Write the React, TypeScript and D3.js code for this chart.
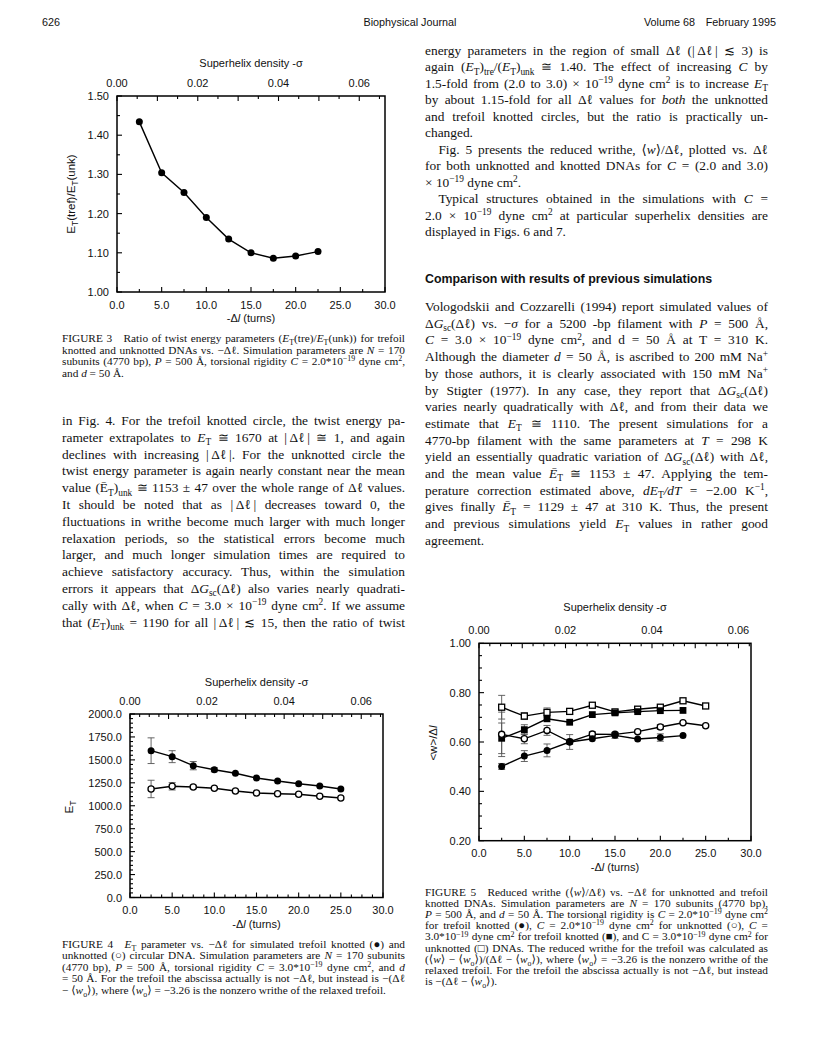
import React, { useLayoutEffect, useRef, useState } from 'react';
import * as d3 from 'd3';

// ---------------- data ----------------
const xTicks = [0, 5, 10, 15, 20, 25, 30];
const sigmaTicks = [0, 0.02, 0.04, 0.06];

// Figure 3
const fig3DeltaL = [2.5, 5, 7.5, 10, 12.5, 15, 17.5, 20, 22.5];
const fig3Ratio = [1.434, 1.304, 1.254, 1.19, 1.135, 1.1, 1.086, 1.092, 1.103];
const fig3YTicks = [1.0, 1.1, 1.2, 1.3, 1.4, 1.5];

// Figure 4
const fig4DeltaL = [2.5, 5, 7.5, 10, 12.5, 15, 17.5, 20, 22.5, 25];
const fig4Trefoil = [1600, 1535, 1437, 1393, 1354, 1302, 1270, 1240, 1215, 1183];
const fig4TrefoilErr = [140, 65, 45, 22, 0, 0, 0, 0, 0, 0];
const fig4Unknotted = [1183, 1212, 1205, 1190, 1161, 1139, 1131, 1125, 1103, 1085];
const fig4UnknottedErr = [95, 40, 18, 0, 0, 0, 0, 0, 0, 0];
const fig4YTicks = [0, 250, 500, 750, 1000, 1250, 1500, 1750, 2000];

// Figure 5
const fig5DeltaLUnk = [2.5, 5, 7.5, 10, 12.5, 15, 17.5, 20, 22.5, 25];
const fig5DeltaLTre = [2.5, 5, 7.5, 10, 12.5, 15, 17.5, 20, 22.5];
const fig5UnkC3 = [0.741, 0.705, 0.72, 0.724, 0.749, 0.722, 0.733, 0.741, 0.767, 0.746];
const fig5UnkC3Err = [0.048, 0.014, 0.018, 0.012, 0, 0, 0, 0, 0, 0];
const fig5TreC3 = [0.615, 0.65, 0.694, 0.68, 0.711, 0.718, 0.723, 0.727, 0.728];
const fig5TreC3Err = [0.062, 0.02, 0, 0, 0, 0, 0, 0, 0];
const fig5UnkC2 = [0.631, 0.613, 0.647, 0.601, 0.632, 0.631, 0.642, 0.661, 0.678, 0.666];
const fig5UnkC2Err = [0.09, 0.02, 0.02, 0.01, 0.01, 0, 0, 0.01, 0, 0];
const fig5TreC2 = [0.501, 0.543, 0.566, 0.6, 0.613, 0.627, 0.612, 0.618, 0.626];
const fig5TreC2Err = [0.012, 0.022, 0.026, 0.03, 0, 0.012, 0, 0.015, 0];
const fig5YTicks = [0.2, 0.4, 0.6, 0.8, 1.0];

// ---------------- text ----------------
const headerLeft = '626';
const headerCenter = 'Biophysical Journal';
const headerRight = 'Volume 68\u2003February 1995';

const fig3Caption = [
  'FIGURE 3\u2003Ratio of twist energy parameters (~E~_{T}(tre)/~E~_{T}(unk)) for trefoil',
  'knotted and unknotted DNAs vs. \u2212Δℓ. Simulation parameters are ~N~ = 170',
  'subunits (4770 bp), ~P~ = 500 Å, torsional rigidity ~C~ = 2.0*10^{\u221219} dyne cm^{2},',
  'and ~d~ = 50 Å.',
];

const leftBody = [
  'in Fig. 4. For the trefoil knotted circle, the twist energy pa-',
  'rameter extrapolates to ~E~_{T} ≅ 1670 at |\u2009Δℓ\u2009| ≅ 1, and again',
  'declines with increasing |\u2009Δℓ\u2009|. For the unknotted circle the',
  'twist energy parameter is again nearly constant near the mean',
  'value (Ē_{T})_{unk} ≅ 1153 ± 47 over the whole range of Δℓ values.',
  'It should be noted that as |\u2009Δℓ\u2009| decreases toward 0, the',
  'fluctuations in writhe become much larger with much longer',
  'relaxation periods, so the statistical errors become much',
  'larger, and much longer simulation times are required to',
  'achieve satisfactory accuracy. Thus, within the simulation',
  'errors it appears that Δ~G~_{sc}(Δℓ) also varies nearly quadrati-',
  'cally with Δℓ, when ~C~ = 3.0 × 10^{\u221219} dyne cm^{2}. If we assume',
  'that (~E~_{T})_{unk} = 1190 for all |\u2009Δℓ\u2009| ≲ 15, then the ratio of twist',
];

const rightBodyA = [
  'energy parameters in the region of small Δℓ (|\u2009Δℓ\u2009| ≲ 3) is',
  'again (~E~_{T})_{tre}/(~E~_{T})_{unk} ≅ 1.40. The effect of increasing ~C~ by',
  '1.5-fold from (2.0 to 3.0) × 10^{\u221219} dyne cm^{2} is to increase ~E~_{T}',
  'by about 1.15-fold for all Δℓ values for ~both~ the unknotted',
  'and trefoil knotted circles, but the ratio is practically un-',
  'changed.',
  '\u2003Fig. 5 presents the reduced writhe, ⟨~w~⟩/Δℓ, plotted vs. Δℓ',
  'for both unknotted and knotted DNAs for ~C~ = (2.0 and 3.0)',
  '× 10^{\u221219} dyne cm^{2}.',
  '\u2003Typical structures obtained in the simulations with ~C~ =',
  '2.0 × 10^{\u221219} dyne cm^{2} at particular superhelix densities are',
  'displayed in Figs. 6 and 7.',
];
const rightBodyAJustify = [1, 1, 1, 1, 1, 0, 1, 1, 0, 1, 1, 0];

const heading = 'Comparison with results of previous simulations';

const rightBodyB = [
  'Vologodskii and Cozzarelli (1994) report simulated values of',
  'Δ~G~_{sc}(Δℓ) vs. \u2212~σ~ for a 5200 -bp filament with ~P~ = 500 Å,',
  '~C~ = 3.0 × 10^{\u221219} dyne cm^{2}, and d = 50 Å at T = 310 K.',
  'Although the diameter ~d~ = 50 Å, is ascribed to 200 mM Na^{+}',
  'by those authors, it is clearly associated with 150 mM Na^{+}',
  'by Stigter (1977). In any case, they report that Δ~G~_{sc}(Δℓ)',
  'varies nearly quadratically with Δℓ, and from their data we',
  'estimate that ~E~_{T} ≅ 1110. The present simulations for a',
  '4770-bp filament with the same parameters at ~T~ = 298 K',
  'yield an essentially quadratic variation of Δ~G~_{sc}(Δℓ) with Δℓ,',
  'and the mean value ~Ē~_{T} ≅ 1153 ± 47. Applying the tem-',
  'perature correction estimated above, ~dE~_{T}~/dT~ = \u22122.00 K^{\u22121},',
  'gives finally ~Ē~_{T} = 1129 ± 47 at 310 K. Thus, the present',
  'and previous simulations yield ~E~_{T} values in rather good',
  'agreement.',
];

const fig4Caption = [
  'FIGURE 4\u2003~E~_{T} parameter vs. \u2212Δℓ for simulated trefoil knotted (●) and',
  'unknotted (○) circular DNA. Simulation parameters are ~N~ = 170 subunits',
  '(4770 bp), ~P~ = 500 Å, torsional rigidity ~C~ = 3.0*10^{\u221219} dyne cm^{2}, and ~d~',
  '= 50 Å. For the trefoil the abscissa actually is not \u2212Δℓ, but instead is \u2212(Δℓ',
  '\u2212 ⟨~w~_{o}⟩), where ⟨~w~_{o}⟩ = \u22123.26 is the nonzero writhe of the relaxed trefoil.',
];

const fig5Caption = [
  'FIGURE 5\u2003Reduced writhe (⟨~w~⟩/Δℓ) vs. \u2212Δℓ for unknotted and trefoil',
  'knotted DNAs. Simulation parameters are ~N~ = 170 subunits (4770 bp),',
  '~P~ = 500 Å, and ~d~ = 50 Å. The torsional rigidity is ~C~ = 2.0*10^{\u221219} dyne cm^{2}',
  'for trefoil knotted (●), ~C~ = 2.0*10^{\u221219} dyne cm^{2} for unknotted (○), ~C~ =',
  '3.0*10^{\u221219} dyne cm^{2} for trefoil knotted (■), and C = 3.0*10^{\u221219} dyne cm^{2} for',
  'unknotted (□) DNAs. The reduced writhe for the trefoil was calculated as',
  '(⟨~w~⟩ \u2212 ⟨~w~_{o}⟩)/(Δℓ \u2212 ⟨~w~_{o}⟩), where ⟨~w~_{o}⟩ = \u22123.26 is the nonzero writhe of the',
  'relaxed trefoil. For the trefoil the abscissa actually is not \u2212Δℓ, but instead',
  'is \u2212(Δℓ \u2212 ⟨~w~_{o}⟩).',
];

// ---------------- helpers ----------------
const SANS = '"Liberation Sans", Arial, Helvetica, sans-serif';
const SERIF = '"Liberation Serif", "Times New Roman", "DejaVu Serif", serif';

type Seg = { t: string; it: boolean; sub?: boolean; sup?: boolean };

function parse(s: string): Seg[] {
  const segs: Seg[] = [];
  let it = false;
  let buf = '';
  let i = 0;
  const flush = () => {
    if (buf) segs.push({ t: buf, it });
    buf = '';
  };
  while (i < s.length) {
    const c = s[i];
    if (c === '~') {
      flush();
      it = !it;
      i++;
      continue;
    }
    if ((c === '_' || c === '^') && s[i + 1] === '{') {
      flush();
      const end = s.indexOf('}', i + 2);
      segs.push({ t: s.slice(i + 2, end), it: false, sub: c === '_', sup: c === '^' });
      i = end + 1;
      continue;
    }
    buf += c;
    i++;
  }
  flush();
  return segs;
}

function Spans({ segs, size }: { segs: Seg[]; size: number }) {
  let cur = 0;
  return (
    <>
      {segs.map((s, i) => {
        const off = s.sub ? size * 0.26 : s.sup ? -size * 0.34 : 0;
        const dy = off - cur;
        cur = off;
        return (
          <tspan
            key={i}
            dy={dy !== 0 ? dy : undefined}
            fontStyle={s.it ? 'italic' : undefined}
            fontSize={s.sub || s.sup ? size * 0.7 : undefined}
          >
            {s.t}
          </tspan>
        );
      })}
    </>
  );
}

function TextLine({
  x, y, width, text, size, family, justify,
}: {
  x: number; y: number; width: number; text: string; size: number; family: string; justify: boolean;
}) {
  const ref = useRef<SVGTextElement>(null);
  const [ws, setWs] = useState<number>(0);
  const segs = parse(text);
  useLayoutEffect(() => {
    if (!justify || !ref.current) return;
    const natural = ref.current.getComputedTextLength();
    const plain = segs.map((s) => s.t).join('');
    const n = (plain.match(/ /g) || []).length;
    if (n > 0) setWs((width - natural) / n);
  }, []);
  return (
    <text ref={ref} x={x} y={y} fontSize={size} fontFamily={family} fill="#111" style={{ wordSpacing: ws + 'px' }}>
      <Spans segs={segs} size={size} />
    </text>
  );
}

function Paragraph({
  lines, x, y0, step, width, size, family, justify,
}: {
  lines: string[]; x: number; y0: number; step: number; width: number; size: number; family: string; justify: (i: number) => boolean;
}) {
  return (
    <g>
      {lines.map((l, i) => (
        <TextLine key={i} x={x} y={y0 + i * step} width={width} text={l} size={size} family={family} justify={justify(i)} />
      ))}
    </g>
  );
}

type MarkerKind = 'fc' | 'oc' | 'fs' | 'os';

function Marker({ m, cx, cy }: { m: MarkerKind; cx: number; cy: number }) {
  if (m === 'fc') return <circle cx={cx} cy={cy} r={3.5} fill="#000" />;
  if (m === 'oc') return <circle cx={cx} cy={cy} r={3.1} fill="#fff" stroke="#000" strokeWidth={1.3} />;
  if (m === 'fs') return <rect x={cx - 3.4} y={cy - 3.4} width={6.8} height={6.8} fill="#000" />;
  return <rect x={cx - 3} y={cy - 3} width={6} height={6} fill="#fff" stroke="#000" strokeWidth={1.3} />;
}

type Series = { xs: number[]; ys: number[]; err?: number[]; marker: MarkerKind };

type ChartProps = {
  left: number; right: number; top: number; bottom: number;
  yDomain: [number, number]; yTicks: number[]; yFmt: string; yMinorStep: number;
  xMinorStep: number; sMinorStep: number; lk0: number;
  series: Series[]; yLabel: React.ReactNode; yLabelX: number; yLabelY: number;
  titleGap: number;
};

const AX_FONT = 11;

function Chart(p: ChartProps) {
  const x = d3.scaleLinear().domain([0, 30]).range([p.left, p.right]);
  const y = d3.scaleLinear().domain(p.yDomain).range([p.bottom, p.top]);
  const s = d3.scaleLinear().domain([0, 30 / p.lk0]).range([p.left, p.right]);
  const xMinor = d3.range(0, 30 + 1e-9, p.xMinorStep);
  const yMinor = d3.range(p.yDomain[0], p.yDomain[1] + 1e-9, p.yMinorStep);
  const sMinor = d3.range(0, 30 / p.lk0, p.sMinorStep);
  const yf = d3.format(p.yFmt);
  const xf = d3.format('.1f');
  const sf = d3.format('.2f');
  const isMul = (v: number, step: number) => Math.abs(v / step - Math.round(v / step)) < 1e-6;
  const yMajorStep = p.yTicks[1] - p.yTicks[0];
  const cx = (p.left + p.right) / 2;
  const tickStroke = { stroke: '#000', strokeWidth: 1.1 };
  return (
    <g fontFamily={SANS} fill="#111">
      {xMinor.map((v, i) => (
        <line key={'xm' + i} x1={x(v)} x2={x(v)} y1={p.bottom} y2={p.bottom - (isMul(v, 5) ? 5 : 3)} {...tickStroke} />
      ))}
      {yMinor.map((v, i) => (
        <line key={'ym' + i} x1={p.left} x2={p.left + (isMul(v - p.yDomain[0], yMajorStep) ? 5 : 3)} y1={y(v)} y2={y(v)} {...tickStroke} />
      ))}
      {sMinor.map((v, i) => (
        <line key={'sm' + i} x1={s(v)} x2={s(v)} y1={p.top} y2={p.top + (isMul(v, 0.01) ? 5 : 3)} {...tickStroke} />
      ))}
      <rect x={p.left} y={p.top} width={p.right - p.left} height={p.bottom - p.top} fill="none" stroke="#000" strokeWidth={1.5} />
      {p.series.map((se, k) => {
        const d = d3
          .line<number>()
          .x((_, i) => x(se.xs[i]))
          .y((v) => y(v))(se.ys);
        return <path key={'l' + k} d={d || ''} fill="none" stroke="#000" strokeWidth={1.4} />;
      })}
      {p.series.map((se, k) =>
        se.err
          ? se.err.map((e, i) =>
              e > 0 ? (
                <g key={'e' + k + '-' + i} stroke="#555" strokeWidth={0.9}>
                  <line x1={x(se.xs[i])} x2={x(se.xs[i])} y1={y(se.ys[i] - e)} y2={y(se.ys[i] + e)} />
                  <line x1={x(se.xs[i]) - 3.5} x2={x(se.xs[i]) + 3.5} y1={y(se.ys[i] - e)} y2={y(se.ys[i] - e)} />
                  <line x1={x(se.xs[i]) - 3.5} x2={x(se.xs[i]) + 3.5} y1={y(se.ys[i] + e)} y2={y(se.ys[i] + e)} />
                </g>
              ) : null
            )
          : null
      )}
      {p.series.map((se, k) =>
        se.ys.map((v, i) => <Marker key={'m' + k + '-' + i} m={se.marker} cx={x(se.xs[i])} cy={y(v)} />)
      )}
      {p.yTicks.map((v, i) => (
        <text key={'yl' + i} x={p.left - 8} y={y(v) + 4} fontSize={AX_FONT} textAnchor="end">
          {yf(v)}
        </text>
      ))}
      {xTicks.map((v, i) => (
        <text key={'xl' + i} x={x(v)} y={p.bottom + 16.5} fontSize={AX_FONT} textAnchor="middle">
          {xf(v)}
        </text>
      ))}
      {sigmaTicks.map((v, i) => (
        <text key={'sl' + i} x={s(v)} y={p.top - 9} fontSize={AX_FONT} textAnchor="middle">
          {sf(v)}
        </text>
      ))}
      <text x={cx} y={p.top - p.titleGap} fontSize={AX_FONT} textAnchor="middle">
        Superhelix density -σ
      </text>
      <text x={cx} y={p.bottom + 30} fontSize={AX_FONT} textAnchor="middle">
        -Δ<tspan fontStyle="italic">l</tspan> (turns)
      </text>
      <text
        transform={`translate(${p.yLabelX},${p.yLabelY}) rotate(-90)`}
        fontSize={AX_FONT + 0.5}
        textAnchor="middle"
      >
        {p.yLabel}
      </text>
    </g>
  );
}

export default function App() {
  const LX = 62;
  const RX = 425;
  const COLW = 343;
  const BODY = 13.4;
  const CAP = 11.3;
  const all = () => true;
  const notLast = (n: number) => (i: number) => i < n - 1;
  return (
    <svg
      width={816}
      height={1056}
      viewBox="0 0 816 1056"
      style={{ position: 'absolute', left: 0, top: 0, background: '#fff' }}
    >
      <rect x={0} y={0} width={816} height={1056} fill="#fff" />
      {/* header */}
      <g fontFamily={SANS} fontSize={10.8} fill="#111">
        <text x={42} y={26}>{headerLeft}</text>
        <text x={410} y={26} textAnchor="middle">{headerCenter}</text>
        <text x={776} y={26} textAnchor="end">{headerRight}</text>
      </g>

      {/* Figure 3 */}
      <Chart
        left={117} right={385} top={96} bottom={292}
        yDomain={[1.0, 1.5]} yTicks={fig3YTicks} yFmt=".2f" yMinorStep={0.05}
        xMinorStep={2.5} sMinorStep={0.005} lk0={452}
        series={[{ xs: fig3DeltaL, ys: fig3Ratio, marker: 'fc' }]}
        yLabel={
          <>
            E<tspan dy={3} fontSize={8.5}>T</tspan>
            <tspan dy={-3}>(tref)/E</tspan>
            <tspan dy={3} fontSize={8.5}>T</tspan>
            <tspan dy={-3}>(unk)</tspan>
          </>
        }
        yLabelX={75} yLabelY={194} titleGap={29}
      />
      <Paragraph lines={fig3Caption} x={LX} y0={342} step={11.6} width={COLW} size={CAP} family={SERIF} justify={notLast(fig3Caption.length)} />
      <Paragraph lines={leftBody} x={LX} y0={425} step={16.8} width={COLW} size={BODY} family={SERIF} justify={all} />

      {/* Figure 4 */}
      <Chart
        left={130} right={383} top={714} bottom={897.5}
        yDomain={[0, 2000]} yTicks={fig4YTicks} yFmt=".1f" yMinorStep={50}
        xMinorStep={1.25} sMinorStep={0.0025} lk0={457}
        series={[
          { xs: fig4DeltaL, ys: fig4Trefoil, err: fig4TrefoilErr, marker: 'fc' },
          { xs: fig4DeltaL, ys: fig4Unknotted, err: fig4UnknottedErr, marker: 'oc' },
        ]}
        yLabel={
          <>
            E<tspan dy={3} fontSize={8.5}>T</tspan>
          </>
        }
        yLabelX={73} yLabelY={807} titleGap={28.5}
      />
      <Paragraph lines={fig4Caption} x={LX} y0={948} step={11.4} width={COLW} size={CAP} family={SERIF} justify={notLast(fig4Caption.length)} />

      {/* right column */}
      <Paragraph lines={rightBodyA} x={RX} y0={55} step={16.45} width={COLW} size={BODY} family={SERIF} justify={(i) => rightBodyAJustify[i] === 1} />
      <text x={RX} y={282.5} fontFamily={SANS} fontWeight="bold" fontSize={12.4} fill="#111">
        {heading}
      </text>
      <Paragraph lines={rightBodyB} x={RX} y0={311} step={16.7} width={COLW} size={BODY} family={SERIF} justify={notLast(rightBodyB.length)} />

      {/* Figure 5 */}
      <Chart
        left={479} right={751} top={643.3} bottom={840.7}
        yDomain={[0.2, 1.0]} yTicks={fig5YTicks} yFmt=".2f" yMinorStep={0.05}
        xMinorStep={2.5} sMinorStep={0.0025} lk0={477}
        series={[
          { xs: fig5DeltaLUnk, ys: fig5UnkC3, err: fig5UnkC3Err, marker: 'os' },
          { xs: fig5DeltaLTre, ys: fig5TreC3, err: fig5TreC3Err, marker: 'fs' },
          { xs: fig5DeltaLUnk, ys: fig5UnkC2, err: fig5UnkC2Err, marker: 'oc' },
          { xs: fig5DeltaLTre, ys: fig5TreC2, err: fig5TreC2Err, marker: 'fc' },
        ]}
        yLabel={
          <>
            {'<w>/Δ'}<tspan fontStyle="italic">l</tspan>
          </>
        }
        yLabelX={437} yLabelY={743} titleGap={32}
      />
      <Paragraph lines={fig5Caption} x={RX} y0={896} step={11.1} width={COLW} size={CAP} family={SERIF} justify={notLast(fig5Caption.length)} />
    </svg>
  );
}
